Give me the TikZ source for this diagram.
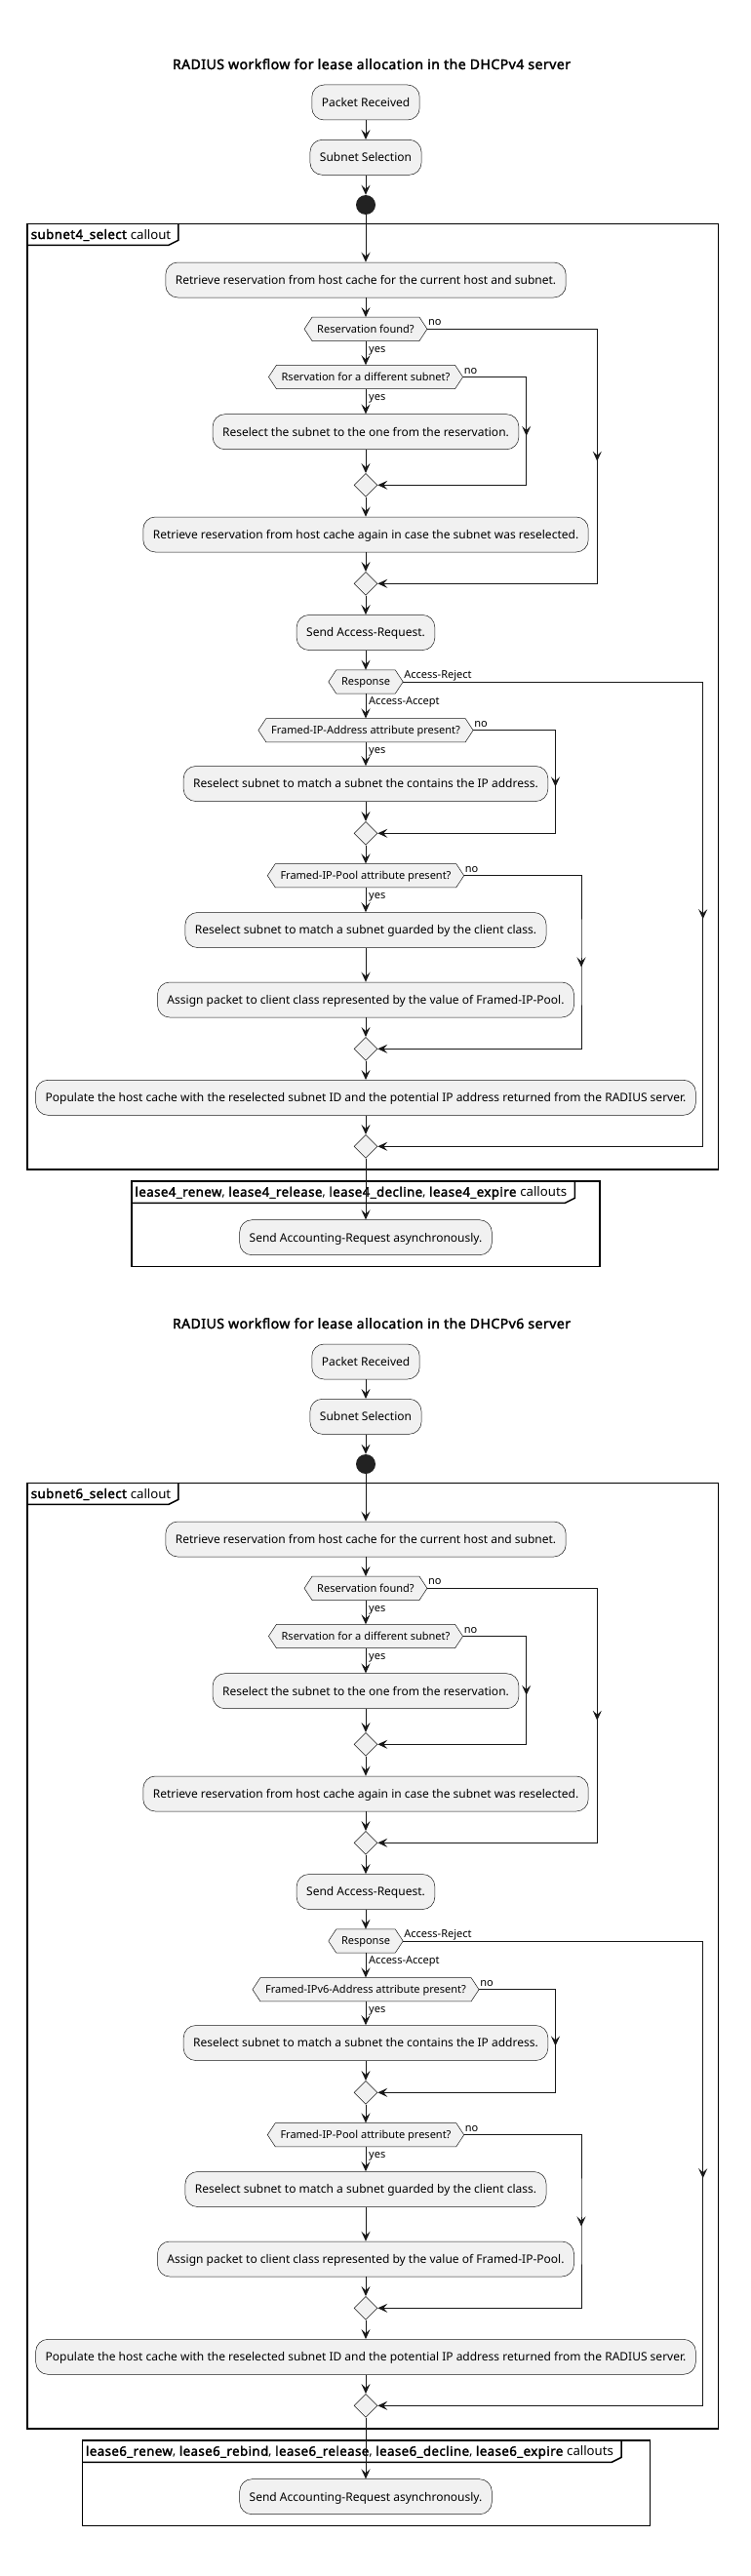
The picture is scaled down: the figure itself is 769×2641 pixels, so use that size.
\documentclass[tikz,border=0pt]{standalone}
\usepackage{fontspec}
\setmainfont{Noto Sans}[AutoFakeBold=2.2, BoldFeatures={LetterSpace=3.5}]
\usetikzlibrary{arrows.meta,backgrounds,shapes.geometric}
\definecolor{boxfill}{HTML}{F1F1F1}
\definecolor{boxline}{HTML}{181818}
\definecolor{startfill}{HTML}{222222}
\tikzset{
 x=1pt, y=-1pt,
 flowtip/.style={-{Stealth[length=10pt,width=9pt,inset=4pt]}},
 flow/.style={draw=boxline, line width=1pt, flowtip},
 actbox/.style={draw=boxline, fill=boxfill, line width=0.5pt, rounded corners=12.5pt, minimum height=36pt, inner xsep=10pt, inner ysep=0pt, text height=8.6pt, text depth=0pt, font=\fontsize{12}{14}\selectfont},
 hexlabel/.style={inner xsep=5pt, inner ysep=0pt, minimum height=24pt, text height=7.9pt, text depth=0pt, font=\fontsize{11}{13}\selectfont},
 hexshape/.style={draw=boxline, fill=boxfill, line width=0.5pt},
 mergenode/.style={diamond, aspect=1, draw=boxline, fill=boxfill, line width=0.5pt, minimum width=24pt, minimum height=24pt, inner sep=0pt},
 startdot/.style={circle, fill=startfill, minimum size=20pt, inner sep=0pt},
 lbl/.style={inner sep=0pt, font=\fontsize{11}{13}\selectfont},
 framebox/.style={draw=black, line width=1.5pt},
 tabtext/.style={inner sep=0pt, font=\fontsize{13.2}{15}\selectfont},
 titletext/.style={inner sep=0pt, font=\fontsize{14}{17}\selectfont\bfseries},
}
\newcommand{\hexd}[3]{%
 \node[hexlabel] (#1) at (#2) {#3};
 \begin{scope}[on background layer]
 \draw[hexshape] ([xshift=-8pt]#1.west) -- (#1.north west) -- (#1.north east) -- ([xshift=8pt]#1.east) -- (#1.south east) -- (#1.south west) -- cycle;
 \end{scope}
 \coordinate (#1r) at ([xshift=8pt]#1.east);
}
\newcommand{\midarrow}[1]{\draw[flow] ([yshift=5pt]#1) -- ([yshift=-5pt]#1);}
\newcommand{\flowchart}[7]{%
 \node[titletext, anchor=base] (#1title) at (381,71+#2) {RADIUS workflow for lease allocation in the DHCPv#3 server};
 \node[actbox] (#1pr) at (375,105+#2) {Packet Received};
 \node[actbox] (#1ss) at (375,161.3+#2) {Subnet Selection};
 \node[startdot] (#1st) at (375,210+#2) {};
 % main frame
 \coordinate (#1ftl) at (28,229.3+#2);
 \coordinate (#1fbr) at (736.4,1199+#2);
 \coordinate (#1tabB) at (28,251.3+#2);
 \coordinate (#1tabB5) at (28,246.3+#2);
 \draw[framebox] (#1ftl) rectangle (#1fbr);
 \node[tabtext, anchor=base west] (#1tab) at (31.6,245+#2) {\textbf{subnet#3\_select} callout};
 \coordinate (#1tr) at ([xshift=7.5pt]#1tab.east);
 \coordinate (#1tr2) at ([xshift=-2.5pt]#1tab.east);
 \draw[framebox] (#1tabB) -- (#1tr2 |- #1tabB) -- (#1tr |- #1tabB5) -- (#1tr |- #1ftl);
 % nodes
 \node[actbox] (#1r1) at (375,287+#2) {Retrieve reservation from host cache for the current host and subnet.};
 \hexd{#1d1}{375,337.3+#2}{Reservation found?}
 \hexd{#1d2}{375,386.5+#2}{Rservation for a different subnet?}
 \node[actbox] (#1b2) at (375,442.7+#2) {Reselect the subnet to the one from the reservation.};
 \node[mergenode] (#1m1) at (375,497.3+#2) {};
 \node[actbox] (#1b3) at (375,548+#2) {Retrieve reservation from host cache again in case the subnet was reselected.};
 \node[mergenode] (#1m2) at (375,598.3+#2) {};
 \node[actbox] (#1b4) at (375,648.5+#2) {Send Access-Request.};
 \hexd{#1d3}{375,699+#2}{Response}
 \hexd{#1d4}{375,748.7+#2}{#4}
 \node[actbox] (#1b5) at (375,803.5+#2) {Reselect subnet to match a subnet the contains the IP address.};
 \node[mergenode] (#1m3) at (375,854.3+#2) {};
 \hexd{#1d5}{375,897.7+#2}{Framed-IP-Pool attribute present?}
 \node[actbox] (#1b6) at (375,953.5+#2) {Reselect subnet to match a subnet guarded by the client class.};
 \node[actbox] (#1b7) at (375,1025+#2) {Assign packet to client class represented by the value of Framed-IP-Pool.};
 \node[mergenode] (#1m4) at (375,1075.3+#2) {};
 \node[actbox] (#1b8) at (375,1125.3+#2) {Populate the host cache with the reselected subnet ID and the potential IP address returned from the RADIUS server.};
 \node[mergenode] (#1m5) at (375,1175.3+#2) {};
 % lease frame
 \coordinate (#1ltop) at (#6,1211+#2);
 \coordinate (#1lB) at (#6,1233.3+#2);
 \coordinate (#1lB5) at (#6,1228.3+#2);
 \draw[framebox] (#1ltop) rectangle (#7,1298.3+#2);
 \node[tabtext, anchor=base west] (#1ltab) at (#6+3.5,1226.7+#2) {#5};
 \coordinate (#1lr) at ([xshift=8pt]#1ltab.east);
 \coordinate (#1lr2) at ([xshift=-2pt]#1ltab.east);
 \draw[framebox] (#1lB) -- (#1lr2 |- #1lB) -- (#1lr |- #1lB5) -- (#1lr |- #1ltop);
 \node[actbox] (#1b9) at (375,1268.7+#2) {Send Accounting-Request asynchronously.};
 % main connectors
 \draw[flow] (#1pr.south) -- (#1ss.north);
 \draw[flow] (#1ss.south) -- (#1st.north);
 \draw[flow] (#1st.south) -- (#1r1.north);
 \draw[flow] (#1r1.south) -- (#1d1.north);
 \draw[flow] (#1d1.south) -- (#1d2.north);
 \draw[flow] (#1d2.south) -- (#1b2.north);
 \draw[flow] (#1b2.south) -- (#1m1.north);
 \draw[flow] (#1m1.south) -- (#1b3.north);
 \draw[flow] (#1b3.south) -- (#1m2.north);
 \draw[flow] (#1m2.south) -- (#1b4.north);
 \draw[flow] (#1b4.south) -- (#1d3.north);
 \draw[flow] (#1d3.south) -- (#1d4.north);
 \draw[flow] (#1d4.south) -- (#1b5.north);
 \draw[flow] (#1b5.south) -- (#1m3.north);
 \draw[flow] (#1m3.south) -- (#1d5.north);
 \draw[flow] (#1d5.south) -- (#1b6.north);
 \draw[flow] (#1b6.south) -- (#1b7.north);
 \draw[flow] (#1b7.south) -- (#1m4.north);
 \draw[flow] (#1m4.south) -- (#1b8.north);
 \draw[flow] (#1b8.south) -- (#1m5.north);
 \draw[flow] (#1m5.south) -- (#1b9.north);
 % side branches
 \coordinate (#1k1) at (612.3,467.8+#2);
 \draw[flow] (#1d1r) -| (#1k1) |- (#1m2.east); \midarrow{#1k1}
 \coordinate (#1k2) at (539.7,441.9+#2);
 \draw[flow] (#1d2r) -| (#1k2) |- (#1m1.east); \midarrow{#1k2}
 \coordinate (#1k3) at (720.7,937.2+#2);
 \draw[flow] (#1d3r) -| (#1k3) |- (#1m5.east); \midarrow{#1k3}
 \coordinate (#1k4) at (569.5,801.5+#2);
 \draw[flow] (#1d4r) -| (#1k4) |- (#1m3.east); \midarrow{#1k4}
 \coordinate (#1k5) at (596,986.5+#2);
 \draw[flow] (#1d5r) -| (#1k5) |- (#1m4.east); \midarrow{#1k5}
 % labels
 \node[lbl, anchor=base west] (#1n1) at ([xshift=1pt,yshift=3.5pt]#1d1r) {no};
 \node[lbl, anchor=base west] (#1y1) at ([xshift=3pt,yshift=-11.5pt]#1d1.south) {yes};
 \node[lbl, anchor=base west] (#1n2) at ([xshift=1pt,yshift=3.5pt]#1d2r) {no};
 \node[lbl, anchor=base west] (#1y2) at ([xshift=3pt,yshift=-11.5pt]#1d2.south) {yes};
 \node[lbl, anchor=base west] (#1n3) at ([xshift=1pt,yshift=4pt]#1d3r) {Access-Reject};
 \node[lbl, anchor=base west] (#1y3) at ([xshift=3pt,yshift=-11.5pt]#1d3.south) {Access-Accept};
 \node[lbl, anchor=base west] (#1n4) at ([xshift=1pt,yshift=3.5pt]#1d4r) {no};
 \node[lbl, anchor=base west] (#1y4) at ([xshift=3pt,yshift=-11.5pt]#1d4.south) {yes};
 \node[lbl, anchor=base west] (#1n5) at ([xshift=1pt,yshift=3.5pt]#1d5r) {no};
 \node[lbl, anchor=base west] (#1y5) at ([xshift=3pt,yshift=-11.5pt]#1d5.south) {yes};
}
\begin{document}
\begin{tikzpicture}
\useasboundingbox (0,0) rectangle (769,2641);
\flowchart{a}{0}{4}{Framed-IP-Address attribute present?}{\textbf{lease4\_renew}, \textbf{lease4\_release}, \textbf{lease4\_decline}, \textbf{lease4\_expire} callouts}{134.8}{615.2}
\flowchart{b}{1291}{6}{Framed-IPv6-Address attribute present?}{\textbf{lease6\_renew}, \textbf{lease6\_rebind}, \textbf{lease6\_release}, \textbf{lease6\_decline}, \textbf{lease6\_expire} callouts}{84.3}{666.7}
\end{tikzpicture}
\end{document}
